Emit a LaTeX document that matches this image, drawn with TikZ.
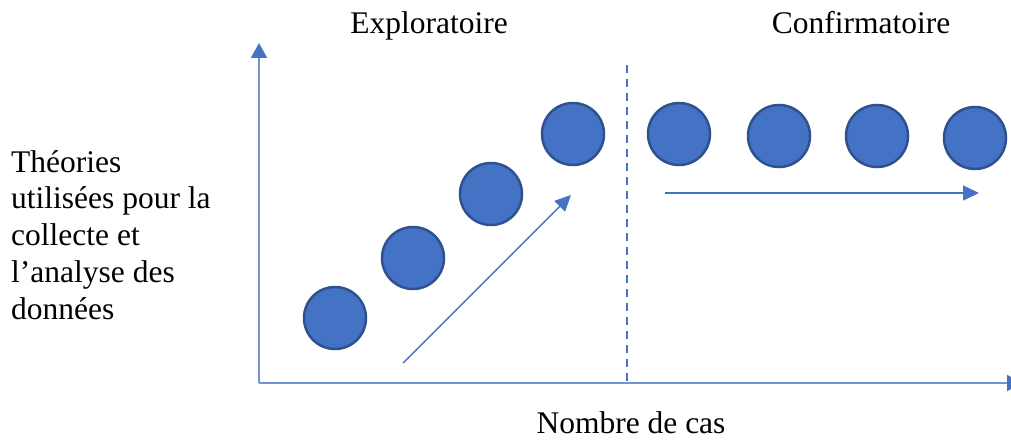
\documentclass[tikz,border=0pt]{standalone}
\usepackage{fontspec}
\setmainfont{Liberation Serif}
\usetikzlibrary{arrows.meta}
\definecolor{cfill}{HTML}{4472C4}
\definecolor{cedge}{HTML}{2F528F}
\definecolor{axiscol}{HTML}{7094D5}
\definecolor{arrcol}{HTML}{4472C4}
\tikzset{
  ball/.style={circle, draw=cedge, fill=cfill, line width=2.5pt, minimum size=62pt, inner sep=0pt},
  axis/.style={draw=axiscol, line width=2pt, -{Triangle[length=15pt,width=16pt,color=arrcol,fill=arrcol]}},
  trend/.style={draw=arrcol, line width=1.4pt, -{Triangle[length=16pt,width=15pt]}},
  sep/.style={draw=arrcol, line width=2pt, dash pattern=on 8pt off 6pt},
  lbl/.style={font=\fontsize{31.5}{36.8}\selectfont, inner sep=0pt},
}
\begin{document}
\begin{tikzpicture}[x=1pt,y=-1pt]
\useasboundingbox (0,0) rectangle (1011,441);
% axes
\coordinate (o) at (259,383);
\coordinate (ytip) at (259,43);
\coordinate (xtip) at (1022,383);
\draw[axis] (o) -- (ytip);
\draw[axis] (o) -- (xtip);
% separator
\coordinate (stop) at (627,65);
\coordinate (sbot) at (627,383);
\draw[sep] (stop) -- (sbot);
% balls
\node[ball] (b1) at (335,318) {};
\node[ball] (b2) at (413,258) {};
\node[ball] (b3) at (491,194) {};
\node[ball] (b4) at (573,134) {};
\node[ball] (b5) at (679,134) {};
\node[ball] (b6) at (779,136) {};
\node[ball] (b7) at (877,136) {};
\node[ball] (b8) at (975,138) {};
% trend arrows
\coordinate (d1) at (403,363);
\coordinate (d2) at (571,195);
\draw[trend] (d1) -- (d2);
\coordinate (h1) at (665,193);
\coordinate (h2) at (979,193);
\draw[trend] (h1) -- (h2);
% labels
\node[lbl, anchor=base] (expl) at (429,34) {Exploratoire};
\node[lbl, anchor=base] (conf) at (861,34) {Confirmatoire};
\node[lbl, anchor=base] (xlab) at (631,433) {Nombre de cas};
\node[lbl, anchor=north west, align=left] (ylab) at (11,150) {Théories\\utilisées pour la\\collecte et\\l’analyse des\\données};
\end{tikzpicture}
\end{document}
